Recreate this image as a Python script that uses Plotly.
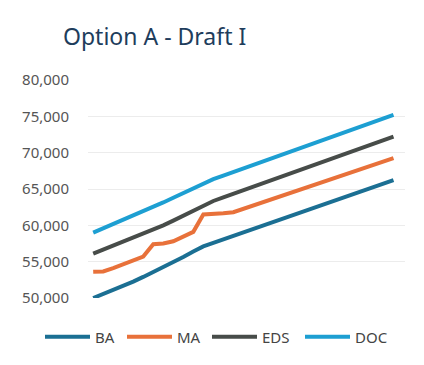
import plotly.graph_objects as go

steps = list(range(31))

ba = [50000, 50550, 51100, 51650, 52250, 52900, 53550, 54250, 54950, 55650,
      56400, 57100, 57580, 58060, 58540, 59020, 59500, 59980, 60460, 60940,
      61420, 61900, 62380, 62860, 63340, 63820, 64300, 64780, 65260, 65740, 66220]
ma = [53600, 53650, 54100, 54600, 55100, 55700, 57400, 57500, 57800, 58400,
      59100, 61500, 61550, 61650, 61800, 62270, 62730, 63200, 63660, 64130,
      64600, 65060, 65530, 66000, 66460, 66930, 67390, 67860, 68320, 68790, 69250]
eds = [56100, 56650, 57200, 57750, 58300, 58850, 59400, 60000, 60650, 61350,
       62050, 62750, 63350, 63840, 64330, 64820, 65310, 65800, 66290, 66780,
       67270, 67760, 68250, 68740, 69230, 69720, 70210, 70700, 71190, 71680, 72200]
doc = [59000, 59580, 60160, 60740, 61320, 61900, 62500, 63150, 63800, 64450,
       65100, 65750, 66350, 66840, 67330, 67820, 68310, 68800, 69290, 69780,
       70270, 70760, 71250, 71740, 72230, 72720, 73210, 73700, 74190, 74680, 75200]

series = [("BA", ba, "#1b6f93"), ("MA", ma, "#e8713a"),
          ("EDS", eds, "#474c49"), ("DOC", doc, "#1d9fd2")]
legend_x = [40, 122, 207, 300]

fig = go.Figure()
legend_cfg = {}
for k, (name, vals, color) in enumerate(series):
    lname = "legend" if k == 0 else f"legend{k+1}"
    fig.add_trace(go.Scatter(x=steps, y=vals, mode="lines", name=name,
                             line=dict(color=color, width=4), legend=lname))
    legend_cfg[lname] = dict(orientation="h", x=legend_x[k] / 424, xanchor="left",
                             xref="container", y=28 / 365, yanchor="middle",
                             yref="container", bgcolor="rgba(0,0,0,0)",
                             font=dict(size=15, color="#444444"), itemwidth=45)

fig.update_layout(
    width=424, height=365,
    margin=dict(l=88, r=19, t=80, b=67, autoexpand=False),
    paper_bgcolor="white", plot_bgcolor="white",
    font=dict(family="Noto Sans", color="#555555"),
    title=dict(text="Option A - Draft I", x=63/424, xanchor="left",
               y=1-37/365, yanchor="middle", yref="container", xref="container",
               font=dict(size=23, color="#1e3d5c", family="Noto Sans")),
    xaxis=dict(range=[-0.52, 31.15], showgrid=False, showticklabels=False,
               zeroline=False, showline=False, ticks=""),
    yaxis=dict(range=[50000, 80000], dtick=5000, tickformat=",d",
               showgrid=True, gridcolor="#ececec", gridwidth=1,
               zeroline=False, showline=False, ticklabelstandoff=18,
               tickfont=dict(size=15, color="#555555")),
    showlegend=True,
    **legend_cfg,
)

fig.write_html("out.html")
